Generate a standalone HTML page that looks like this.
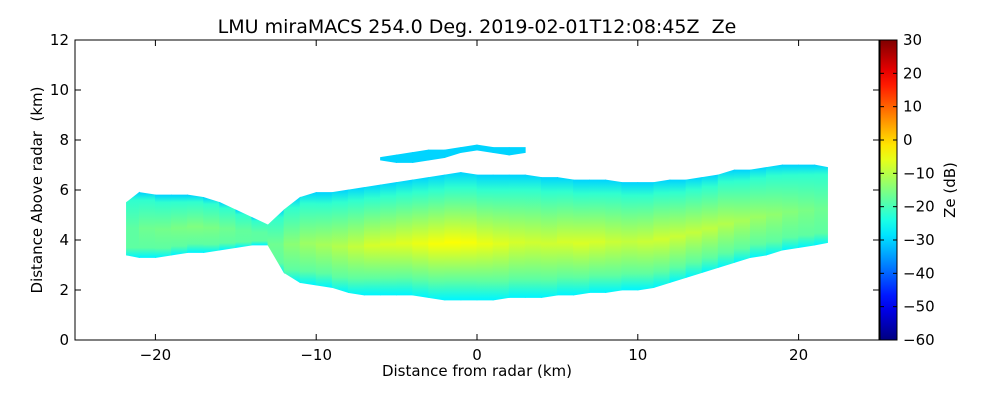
<!DOCTYPE html>
<html><head><meta charset="utf-8">
<style>
html,body{margin:0;padding:0;background:#fff;}
svg{display:block;font-family:"DejaVu Sans","Liberation Sans",sans-serif;}
</style></head>
<body>
<svg id="chart" width="1000" height="400" viewBox="0 0 1000 400">
  <defs id="defs"></defs>
  <text x="477" y="33" font-size="19" text-anchor="middle">LMU miraMACS 254.0 Deg. 2019-02-01T12:08:45Z&#160; Ze</text>
  <g id="plot"></g>
  <g id="axes"></g>
  <g id="cbar"></g>
  <text x="477" y="376" font-size="15" text-anchor="middle">Distance from radar (km)</text>
  <text transform="translate(42,190) rotate(-90)" font-size="15" text-anchor="middle">Distance Above radar&#160; (km)</text>
  <text transform="translate(955,190) rotate(-90)" font-size="15" text-anchor="middle">Ze (dB)</text>
</svg>
<script>
const xTicks = [-20,-10,0,10,20];
const yTicks = [0,2,4,6,8,10,12];
const cbTicks = [30,20,10,0,-10,-20,-30,-40,-50,-60];
const echoX = [-21.8,-21,-20,-19,-18,-17,-16,-15,-14,-13,-12,-11,-10,-9,-8,-7,-6,-5,-4,-3,-2,-1,0,1,2,3,4,5,6,7,8,9,10,11,12,13,14,15,16,17,18,19,20,21,21.8];
const echoTop = [5.5,5.9,5.8,5.8,5.8,5.7,5.5,5.2,4.9,4.6,5.2,5.7,5.9,5.9,6.0,6.1,6.2,6.3,6.4,6.5,6.6,6.7,6.6,6.6,6.6,6.6,6.5,6.5,6.4,6.4,6.4,6.3,6.3,6.3,6.4,6.4,6.5,6.6,6.8,6.8,6.9,7.0,7.0,7.0,6.9];
const echoBottom = [3.4,3.3,3.3,3.4,3.5,3.5,3.6,3.7,3.8,3.8,2.7,2.3,2.2,2.1,1.9,1.8,1.8,1.8,1.8,1.7,1.6,1.6,1.6,1.6,1.7,1.7,1.7,1.8,1.8,1.9,1.9,2.0,2.0,2.1,2.3,2.5,2.7,2.9,3.1,3.3,3.4,3.6,3.7,3.8,3.9];
const echoCoreZe = [-19,-17,-16,-16,-15,-15,-16,-17,-18,-18,-15,-13,-12,-11,-10,-8,-7,-7,-6,-5,-4,-4,-5,-6,-7,-8,-8,-8,-7,-7,-8,-9,-9,-8,-8,-9,-9,-10,-11,-12,-13,-14,-15,-16,-17];
const upperX = [-6,-5,-4,-3,-2,-1,0,1,2,3];
const upperTop = [7.3,7.4,7.5,7.6,7.6,7.7,7.8,7.7,7.7,7.7];
const upperBottom = [7.2,7.1,7.1,7.2,7.3,7.5,7.6,7.5,7.4,7.5];
const upperZe = -30;

const X0=75,X1=879,Y0=40,Y1=340;
const xs = v => X0 + (v+25)/50*(X1-X0);
const ys = v => Y1 - v/12*(Y1-Y0);
const cbs = v => Y1 - (v+60)/90*(Y1-Y0);
const NS="http://www.w3.org/2000/svg";
function mk(t,a,p){const e=document.createElementNS(NS,t);for(const k in a)e.setAttribute(k,a[k]);p.appendChild(e);return e;}
function jet(v){let t=(v+60)/90;t=Math.max(0,Math.min(1,t));
 const f=x=>Math.max(0,Math.min(1,x));
 const r=f(Math.min(4*t-1.5,-4*t+4.5)),g=f(Math.min(4*t-0.5,-4*t+3.5)),b=f(Math.min(4*t+0.5,-4*t+2.5));
 return `rgb(${Math.round(r*255)},${Math.round(g*255)},${Math.round(b*255)})`;}

const defs=document.getElementById('defs'),plot=document.getElementById('plot'),axes=document.getElementById('axes'),cbar=document.getElementById('cbar');
mk('rect',{x:X0,y:Y0,width:X1-X0,height:Y1-Y0,fill:'#fff'},plot);

for(let i=0;i<echoX.length-1;i++){
  const gid='g'+i, ze=(echoCoreZe[i]+echoCoreZe[i+1])/2;
  const lg=mk('linearGradient',{id:gid,x1:0,y1:0,x2:0,y2:1},defs);
  [[0,-30],[0.12,-22],[0.55,ze],[0.85,-18],[1,-27]].forEach(s=>mk('stop',{offset:s[0],'stop-color':jet(s[1])},lg));
  const pts=[[xs(echoX[i]),ys(echoTop[i])],[xs(echoX[i+1]),ys(echoTop[i+1])],[xs(echoX[i+1]),ys(echoBottom[i+1])],[xs(echoX[i]),ys(echoBottom[i])]];
  const p=mk('polygon',{points:pts.map(q=>q.join(',')).join(' '),fill:`url(#${gid})`,stroke:`url(#${gid})`,'stroke-width':0.8},plot);
  
  
}
for(let i=0;i<upperX.length-1;i++){
  const pts=[[xs(upperX[i]),ys(upperTop[i])],[xs(upperX[i+1]),ys(upperTop[i+1])],[xs(upperX[i+1]),ys(upperBottom[i+1])],[xs(upperX[i]),ys(upperBottom[i])]];
  const p=mk('polygon',{points:pts.map(q=>q.join(',')).join(' '),fill:jet(upperZe),stroke:jet(upperZe),'stroke-width':0.8},plot);
  
  
}

mk('rect',{x:X0,y:Y0,width:X1-X0,height:Y1-Y0,fill:'none',stroke:'#000','stroke-width':1},axes);
xTicks.forEach(v=>{const x=xs(v);
  mk('line',{x1:x,x2:x,y1:Y1,y2:Y1-6,stroke:'#000'},axes);
  mk('line',{x1:x,x2:x,y1:Y0,y2:Y0+6,stroke:'#000'},axes);
  const t=mk('text',{x:x,y:Y1+20,'font-size':15,'text-anchor':'middle'},axes);
  t.textContent=(v<0?'\u2212'+(-v):v);
  
  
});
yTicks.forEach(v=>{const y=ys(v);
  mk('line',{x1:X0,x2:X0+6,y1:y,y2:y,stroke:'#000'},axes);
  mk('line',{x1:X1,x2:X1-6,y1:y,y2:y,stroke:'#000'},axes);
  const t=mk('text',{x:X0-6,y:y+5,'font-size':15,'text-anchor':'end'},axes);
  t.textContent=v;
  
  
});

const cg=mk('linearGradient',{id:'cbgrad',x1:0,y1:1,x2:0,y2:0},defs);
for(let k=0;k<=20;k++){mk('stop',{offset:k/20,'stop-color':jet(-60+90*k/20)},cg);}
mk('rect',{x:880,y:Y0,width:17,height:Y1-Y0,fill:'url(#cbgrad)',stroke:'#000','stroke-width':1},cbar);
cbTicks.forEach(v=>{const y=cbs(v);
  mk('line',{x1:880,x2:884,y1:y,y2:y,stroke:'#000'},cbar);
  mk('line',{x1:897,x2:893,y1:y,y2:y,stroke:'#000'},cbar);
  const t=mk('text',{x:903,y:y+5,'font-size':15},cbar);
  t.textContent=(v<0?'\u2212'+(-v):v);
  
  
});
</script>
</body></html>
